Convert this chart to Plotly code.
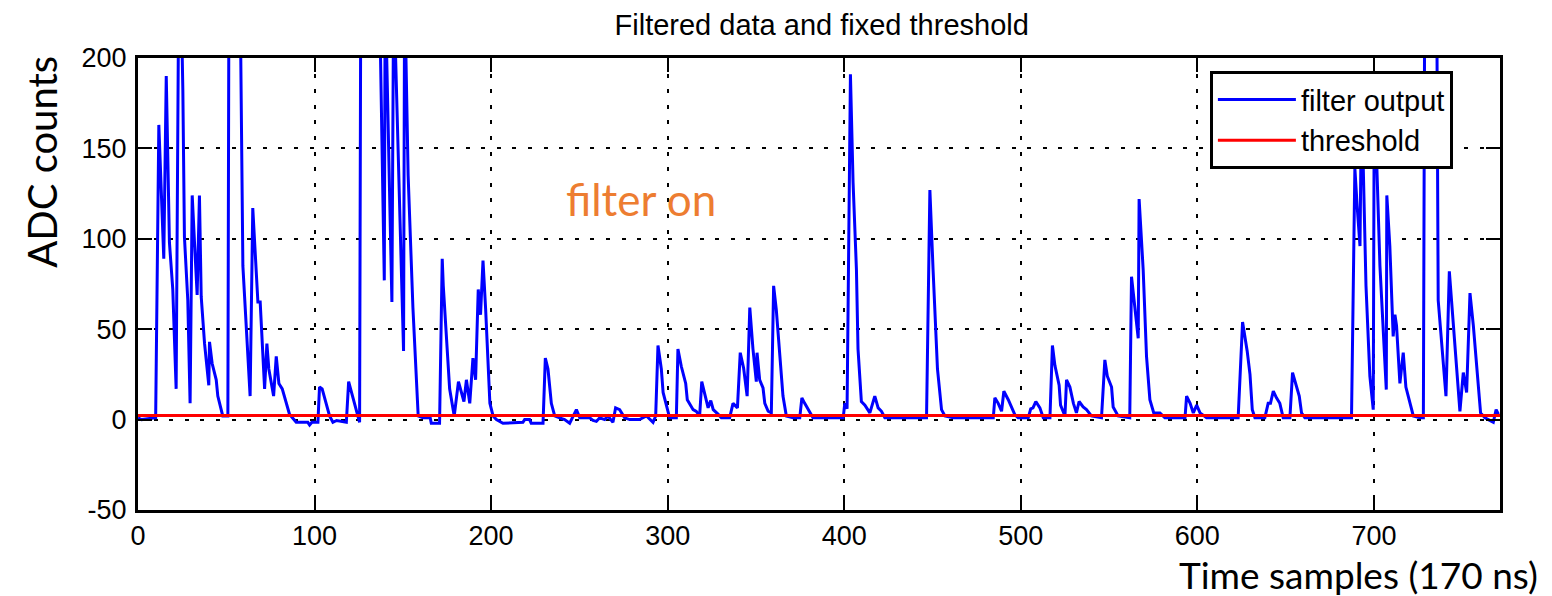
import plotly.graph_objects as go

# ---- data (sample index, ADC counts) ----
sample = [0, 2, 10, 11.8, 14.6, 16, 17.8, 19.7, 21.6, 23, 24.5, 25.4, 26.3, 28.2, 29.5,
          30.7, 32, 33.5, 34.8, 35.8, 37.7, 40.1, 40.5, 42, 44.3, 45.2, 48, 50.9, 51.5,
          57.8, 59.4, 63.5, 65, 67.9, 69.2, 71.7, 73, 74.1, 76.8, 78.3, 79.8, 81.7, 85.8,
          89.6, 96.2, 97.2, 98.5, 101.9, 102.8, 104.3, 108.5, 110.4, 112.5, 118, 119.3,
          121.7, 123.6, 125.5, 126.2, 136.5, 139.5, 140, 143.8, 144.8, 150.4, 151, 153,
          155.7, 158.7, 161.4, 165.5, 166.1, 170.8, 172.3, 172.9, 176.5, 179.1, 181.5,
          184.6, 186, 187.9, 189.7, 191.2, 192.7, 194, 195.4, 196.9, 199.3, 201.1, 203,
          206.7, 218, 219, 221.8, 222.7, 229.4, 230.7, 232.2, 234.1, 236, 238.8, 241.6,
          244.5, 248.3, 250.2, 255.8, 257.7, 259.6, 261.5, 264.3, 266.2, 269, 270.5, 272.8,
          275.6, 278.5, 284, 288, 291.7, 293.2, 294.5, 296.4, 297.4, 301.1, 304.9, 305.8,
          307.7, 310.2, 311.1, 314.4, 316.2, 318.1, 319.3, 321, 322.9, 324.4, 325.8, 328.5,
          330.4, 335.1, 337, 339.5, 341.1, 343, 345, 346.5, 348.3, 350.2, 350.6, 352.1,
          354, 355, 356.9, 358.7, 360, 361.5, 363.4, 365.3, 367.2, 371, 374.8, 376, 377.6,
          380.4, 382.3, 399.4, 400.3, 401.6, 403.5, 405, 406.9, 407.8, 409.7, 411.7, 414.5,
          417.3, 419.2, 421.1, 423, 446.6, 448.5, 450.3, 452.8, 455.1, 457, 461.7, 484.4,
          485.3, 487.2, 489.1, 490.4, 492.9, 494.8, 496.6, 498.5, 504.2, 505.6, 506.9,
          508.5, 510.8, 512.7, 516.5, 517.9, 519.3, 521.7, 522.5, 525, 525.9, 527.8, 529.8,
          531.5, 533, 535.3, 537.2, 540, 545.7, 547.6, 549, 551.4, 552.3, 555.1, 561.7,
          562.7, 564.6, 566.5, 567, 569.3, 571.2, 573.1, 575.3, 578.8, 581.6, 593, 593.9,
          595.9, 597.7, 599.6, 601.5, 605.2, 623.1, 625.6, 628.2, 629.8, 631.1, 632.6,
          638.2, 640.1, 641.4, 643, 644.8, 646.7, 648.6, 652.4, 653.9, 655.8, 657.7, 659,
          660.9, 687.3, 689.2, 690.5, 692.1, 693, 695.5, 697.7, 699.6, 700.2, 703.4, 707,
          707.3, 709, 710.9, 711.9, 712.8, 714.7, 716.6, 718.1, 720.4, 722.3, 726.1, 728,
          728.8, 735.5, 736.4, 738.3, 740.8, 742.7, 744, 745.9, 748.7, 750.6, 752.5, 754.4,
          756.3, 760.4, 762.9, 764.8, 767.6, 769.2, 770.5]
adc = [1, 0, 1, 163, 89, 190, 98, 72, 17, 230, 230, 182, 101, 66, 9,
       124, 98, 69, 124, 68, 42, 19, 43, 31, 22, 13, 2, 2, 240,
       240, 85, 13, 117, 65, 65, 17, 42, 28, 13, 35, 20, 17, 3,
       -1.5, -1.5, -3, -1.5, -1.5, 18, 17, 2, -1.5, -0.5, -1.5, 21,
       12, 6, -1.5, 250, 250, 77, 240, 65, 240, 38, 240, 135,
       62, 2, 1, 1, -2, -2, 89, 74, 17, 2, 21,
       10, 22, 9, 34, 22, 72, 58, 88, 61, 9, 2, 0,
       -2, -1.5, 0, 0, -2, -2, 34, 28, 9, 2, 1, 0,
       -2, 5.5, 1, 1, -0.5, -1, 1, 0, 2, -1.5, 6.5, 5.5,
       1, 0, 0, 2, -1.5, 2, 41, 28, 15, 1, 1, 39,
       29.5, 20, 11, 5.5, 4.5, 2, 21, 14, 6.5, 10.5, 5.5, 3,
       1, 1, 9, 6.5, 37, 28.5, 13, 62, 39, 21, 37, 22,
       17.5, 9, 4.6, 3.7, 74, 61, 37, 13, 2, 1, 1, 12, 9,
       4.6, 1, 1, 9, 6, 191, 131, 83, 39, 10, 8, 3.7,
       13, 6.5, 4.6, 1, 1, 127, 83, 28, 5.5, 2, 1, 1,
       12, 9, 4.6, 15.7, 11, 6.5, 2.8, 1, 1, 6, 6.5,
       10, 6.5, 1, 1, 41, 30, 19, 8, 2, 22, 18, 9,
       3.7, 10, 7, 5.5, 2, 1, 33, 24, 18, 7, 2, 1,
       79, 63, 45, 122, 83, 35, 11, 3.7, 3.7, 1, 1, 13,
       9, 3.7, 8, 3.7, 1, 1, 54, 38, 25, 5.5, 1,
       1, 9, 9, 15.7, 12, 9, 1, 1, 26, 20, 13, 3.7,
       1, 1, 139, 118, 96, 180, 74, 24, 5.5, 185, 85, 16.6,
       124, 96, 46, 58, 52, 20, 37, 18, 9, 2, 1, 1,
       250, 250, 66, 44, 13, 82, 66, 39, 4.6, 26, 15, 70,
       52, 3.7, 1, 0, -1.5, 5.5, 3]

threshold_x = [0, 771.4]
threshold_y = [2.2, 2.2]

x_ticks = [0, 100, 200, 300, 400, 500, 600, 700]
x_tick_labels = ["0", "100", "200", "300", "400", "500", "600", "700"]
y_ticks = [-50, 0, 50, 100, 150, 200]
y_tick_labels = ["-50", "0", "50", "100", "150", "200"]

fig = go.Figure()
fig.add_trace(go.Scatter(x=sample, y=adc, mode="lines", name="filter output",
                         line=dict(color="#0000FF", width=3)))
fig.add_trace(go.Scatter(x=threshold_x, y=threshold_y, mode="lines", name="threshold",
                         line=dict(color="#FF0000", width=3)))

matlab_font = "Liberation Sans, Arial, Helvetica, sans-serif"
slide_font = "Lato, Open Sans, sans-serif"
axis_common = dict(
    showline=True, linecolor="black", linewidth=3, mirror="allticks",
    ticks="inside", ticklen=14, tickwidth=2, tickcolor="black",
    showgrid=True, gridcolor="black", gridwidth=2, griddash="4px,11.6px",
    zeroline=False, tickfont=dict(family=matlab_font, size=27, color="black"),
)

fig.update_xaxes(range=[0, 771.4], tickvals=x_ticks, ticktext=x_tick_labels,
                 **axis_common)
fig.update_yaxes(range=[-50, 200], tickvals=y_ticks, ticktext=y_tick_labels,
                 ticklabelstandoff=3, **axis_common)

fig.update_layout(
    width=1544, height=588,
    margin=dict(l=130, r=52, t=50, b=86),
    paper_bgcolor="white", plot_bgcolor="white",
    title=dict(text="Filtered data and fixed threshold", x=0.527, xanchor="center",
               y=0.988, yanchor="top", pad=dict(t=0, b=0),
               font=dict(family=matlab_font, size=29, color="black")),
    legend=dict(x=0.787, y=0.971, xanchor="left", yanchor="top",
                bgcolor="white", bordercolor="black", borderwidth=3,
                font=dict(family=matlab_font, size=29, color="black"),
                tracegroupgap=0, itemwidth=78),
    showlegend=True,
    annotations=[
        dict(text="ADC counts", xref="paper", yref="paper", x=-0.0706, y=0.77,
             xanchor="center", yanchor="middle", textangle=-90, showarrow=False,
             font=dict(family=slide_font, size=40, color="black")),
        dict(text="Time samples (170 ns)", xref="paper", yref="paper", x=1.0295, y=-0.1427,
             xanchor="right", yanchor="middle", showarrow=False,
             font=dict(family=slide_font, size=37, color="black")),
        dict(text="filter on", xref="x", yref="y", x=241.5, y=122,
             xanchor="left", yanchor="middle", showarrow=False,
             font=dict(family=slide_font, size=44, color="#ED7D31")),
    ],
)

fig.write_html("out.html")
